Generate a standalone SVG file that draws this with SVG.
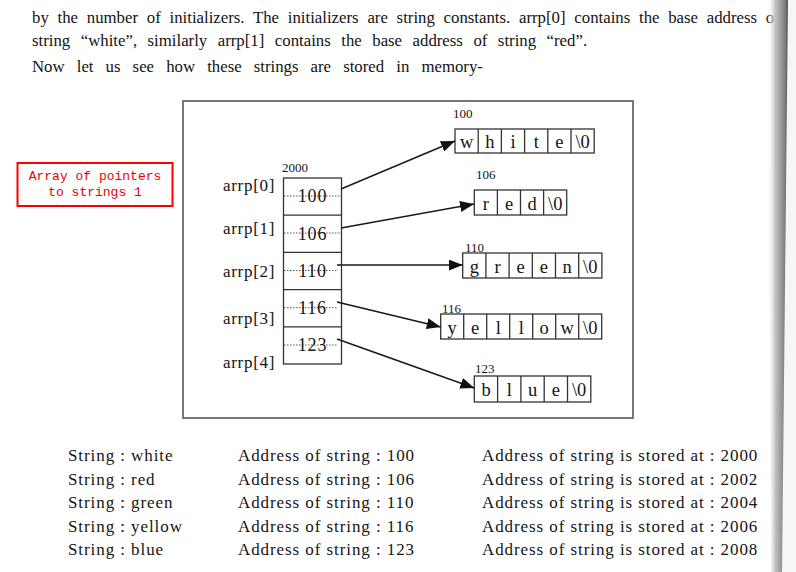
<svg xmlns="http://www.w3.org/2000/svg" width="796" height="572" viewBox="0 0 796 572">
<style>
.prose{font-family:"Liberation Serif","Times New Roman",serif;font-size:16.8px;fill:#141414}
.tbl{font-family:"Liberation Serif","Times New Roman",serif;font-size:17px;letter-spacing:0.92px;fill:#141414}
.lbl{font-family:"Liberation Serif","Times New Roman",serif;font-size:17px;letter-spacing:0.7px;fill:#141414}
.num{font-family:"Liberation Serif","Times New Roman",serif;font-size:18px;letter-spacing:0.8px;fill:#141414;text-anchor:middle}
.ch{font-family:"Liberation Serif","Times New Roman",serif;font-size:18.5px;fill:#141414;text-anchor:middle}
.addr{font-family:"Liberation Serif","Times New Roman",serif;font-size:13px;fill:#141414}
.cell{fill:none;stroke:#333;stroke-width:1.3}
.dot{stroke:#555;stroke-width:1;stroke-dasharray:1.5 1.5}
.conn{stroke:#1a1a1a;stroke-width:1.6;fill:none}
.note{font-family:"Liberation Mono","DejaVu Sans Mono",monospace;font-size:13px;fill:#ee0000;text-anchor:middle}
</style>
<defs>
<marker id="ah" markerUnits="userSpaceOnUse" markerWidth="15" markerHeight="11" refX="14" refY="5.5" orient="auto">
<path d="M0,0 L14,5.5 L0,11 z" fill="#111"/>
</marker>
<linearGradient id="band" x1="0" y1="0" x2="1" y2="0">
<stop offset="0" stop-color="#ffffff" stop-opacity="0"/>
<stop offset="0.4" stop-color="#c0c0c0"/>
<stop offset="0.85" stop-color="#808080"/>
<stop offset="1" stop-color="#505050"/>
</linearGradient>
</defs>
<rect width="796" height="572" fill="#ffffff"/>

<g id="prose">
<text class="prose" x="32" y="22.5" word-spacing="4.55">by the number of initializers. The initializers are string constants. arrp[0] contains the base address of</text>
<text class="prose" x="32" y="45.5" word-spacing="6.3">string “white”, similarly arrp[1] contains the base address of string “red”.</text>
<text class="prose" x="32" y="72" word-spacing="7.9">Now let us see how these strings are stored in memory-</text>
</g>

<g id="note">
<rect x="17.5" y="163" width="155" height="43" fill="#ffffff" stroke="#ff0000" stroke-width="2"/>
<text class="note" x="95" y="180">Array of pointers</text>
<text class="note" x="95" y="196">to strings 1</text>
</g>

<rect id="frame" x="183" y="101" width="450" height="317" fill="none" stroke="#777" stroke-width="2"/>

<g id="array">
<text class="addr" x="282" y="172">2000</text>
<rect class="cell" x="283.5" y="178" width="58" height="186"/>
<line class="cell" x1="283.5" y1="215.2" x2="341.5" y2="215.2"/>
<line class="cell" x1="283.5" y1="252.4" x2="341.5" y2="252.4"/>
<line class="cell" x1="283.5" y1="289.6" x2="341.5" y2="289.6"/>
<line class="cell" x1="283.5" y1="326.8" x2="341.5" y2="326.8"/>
<line class="dot" x1="284" y1="196" x2="341" y2="196"/>
<line class="dot" x1="284" y1="233" x2="341" y2="233"/>
<line class="dot" x1="284" y1="270.5" x2="337" y2="270.5"/>
<line class="dot" x1="284" y1="307.7" x2="337" y2="307.7"/>
<line class="dot" x1="284" y1="345" x2="337" y2="345"/>
<text class="num" x="312.5" y="202">100</text>
<text class="num" x="312.5" y="239.5">106</text>
<text class="num" x="312.5" y="277">110</text>
<text class="num" x="312.5" y="314">116</text>
<text class="num" x="312.5" y="351">123</text>
<text class="lbl" x="223" y="191">arrp[0]</text>
<text class="lbl" x="223" y="234">arrp[1]</text>
<text class="lbl" x="223" y="277">arrp[2]</text>
<text class="lbl" x="223" y="324">arrp[3]</text>
<text class="lbl" x="223" y="368">arrp[4]</text>
</g>

<g id="s-white">
<text class="addr" x="453" y="118">100</text>
<rect class="cell" x="455" y="129" width="139.2" height="24"/>
<path class="cell" d="M478.2,129V153M501.4,129V153M524.6,129V153M547.8,129V153M571,129V153"/>
<text class="ch" x="466.6" y="148">w</text>
<text class="ch" x="489.8" y="148">h</text>
<text class="ch" x="513" y="148">i</text>
<text class="ch" x="536.2" y="148">t</text>
<text class="ch" x="559.4" y="148">e</text>
<text class="ch" x="582.6" y="148">\0</text>
</g>

<g id="s-red">
<text class="addr" x="476" y="179">106</text>
<rect class="cell" x="474.3" y="190" width="92.4" height="25"/>
<path class="cell" d="M497.4,190V215M520.5,190V215M543.6,190V215"/>
<text class="ch" x="485.9" y="209.5">r</text>
<text class="ch" x="509" y="209.5">e</text>
<text class="ch" x="532.1" y="209.5">d</text>
<text class="ch" x="555.2" y="209.5">\0</text>
</g>

<g id="s-green">
<text class="addr" x="465" y="252">110</text>
<rect class="cell" x="462.7" y="253" width="139.2" height="25"/>
<path class="cell" d="M485.9,253V278M509.1,253V278M532.3,253V278M555.5,253V278M578.7,253V278"/>
<text class="ch" x="474.3" y="272.5">g</text>
<text class="ch" x="497.5" y="272.5">r</text>
<text class="ch" x="520.7" y="272.5">e</text>
<text class="ch" x="543.9" y="272.5">e</text>
<text class="ch" x="567.1" y="272.5">n</text>
<text class="ch" x="590.3" y="272.5">\0</text>
</g>

<g id="s-yellow">
<text class="addr" x="442" y="313">116</text>
<rect class="cell" x="440.7" y="314" width="161" height="25"/>
<path class="cell" d="M463.7,314V339M486.7,314V339M509.7,314V339M532.7,314V339M555.7,314V339M578.7,314V339"/>
<text class="ch" x="452.2" y="333.5">y</text>
<text class="ch" x="475.2" y="333.5">e</text>
<text class="ch" x="498.2" y="333.5">l</text>
<text class="ch" x="521.2" y="333.5">l</text>
<text class="ch" x="544.2" y="333.5">o</text>
<text class="ch" x="567.2" y="333.5">w</text>
<text class="ch" x="590.2" y="333.5">\0</text>
</g>

<g id="s-blue">
<text class="addr" x="475" y="373">123</text>
<rect class="cell" x="474.3" y="376" width="116.5" height="26"/>
<path class="cell" d="M497.6,376V402M520.9,376V402M544.2,376V402M567.5,376V402"/>
<text class="ch" x="486" y="396">b</text>
<text class="ch" x="509.2" y="396">l</text>
<text class="ch" x="532.5" y="396">u</text>
<text class="ch" x="555.8" y="396">e</text>
<text class="ch" x="579.1" y="396">\0</text>
</g>

<g id="connectors">
<line class="conn" x1="341" y1="189" x2="455" y2="141" marker-end="url(#ah)"/>
<line class="conn" x1="341" y1="228" x2="474" y2="204" marker-end="url(#ah)"/>
<line class="conn" x1="337" y1="265" x2="462.7" y2="265" marker-end="url(#ah)"/>
<line class="conn" x1="337" y1="302" x2="440.7" y2="327" marker-end="url(#ah)"/>
<line class="conn" x1="337" y1="339" x2="474.3" y2="388" marker-end="url(#ah)"/>
</g>

<g id="table">
<text class="tbl" x="68" y="461">String : white</text>
<text class="tbl" x="68" y="484.5">String : red</text>
<text class="tbl" x="68" y="508">String : green</text>
<text class="tbl" x="68" y="531.5">String : yellow</text>
<text class="tbl" x="68" y="555">String : blue</text>
<text class="tbl" x="238" y="461">Address of string : 100</text>
<text class="tbl" x="238" y="484.5">Address of string : 106</text>
<text class="tbl" x="238" y="508">Address of string : 110</text>
<text class="tbl" x="238" y="531.5">Address of string : 116</text>
<text class="tbl" x="238" y="555">Address of string : 123</text>
<text class="tbl" x="482" y="461">Address of string is stored at : 2000</text>
<text class="tbl" x="482" y="484.5">Address of string is stored at : 2002</text>
<text class="tbl" x="482" y="508">Address of string is stored at : 2004</text>
<text class="tbl" x="482" y="531.5">Address of string is stored at : 2006</text>
<text class="tbl" x="482" y="555">Address of string is stored at : 2008</text>
</g>

<g id="binding">
<polygon points="787,0 796,0 796,572 781,572" fill="#f6f6f6"/>
<polygon points="767,0 788,0 782,572 771,572" fill="url(#band)"/>
</g>
</svg>
